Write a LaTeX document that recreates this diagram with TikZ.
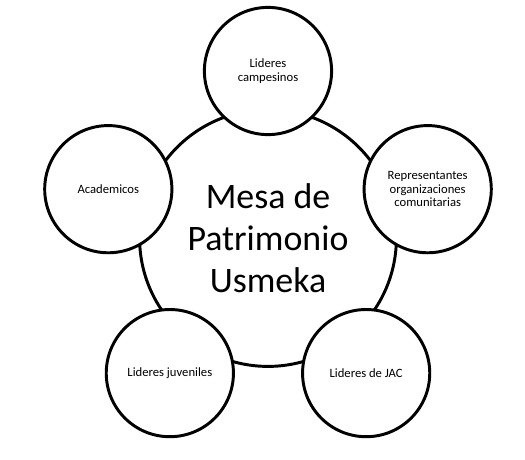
\documentclass[tikz,border=0pt]{standalone}
\usepackage{fontspec}
\setmainfont{Carlito}
\usetikzlibrary{positioning}

\begin{document}
\begin{tikzpicture}[
    line width=2.1pt,
    mesa/.style={draw, circle, inner sep=0pt, minimum size=6.42cm, align=center, font=\fontsize{25.5}{30}\selectfont},
    actor/.style={draw, circle, fill=white, inner sep=0pt, minimum size=3.18cm, align=center, font=\fontsize{9}{9.6}\selectfont}
]
\useasboundingbox (-6.7,-5.525) rectangle (6.425,5.95);

% Circulo central
\node[mesa] (mesa) at (0,0) {Mesa de\\Patrimonio\\Usmeka};

% Actores alrededor
\node[actor] (campesinos) at (90:4.175) {Lideres\\campesinos};
\node[actor] (organizaciones) at (17:4.175) {Representantes\\organizaciones\\comunitarias};
\node[actor] (jac) at (-54:4.175) {Lideres de JAC};
\node[actor] (juveniles) at (-126:4.175) {Lideres juveniles};
\node[actor] (academicos) at (163:4.175) {Academicos};

\end{tikzpicture}
\end{document}
